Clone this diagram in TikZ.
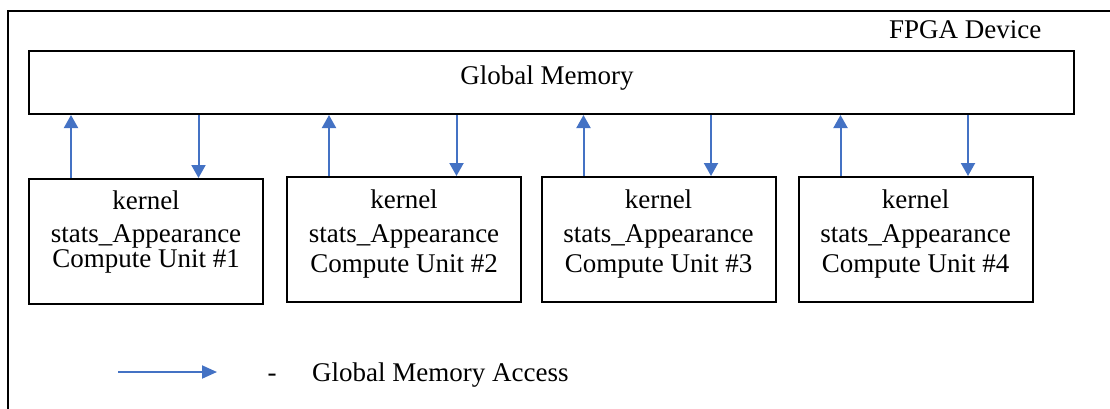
\documentclass[tikz,border=0pt]{standalone}
\usepackage{fontspec}
\setmainfont{Liberation Serif}
\usetikzlibrary{arrows.meta}
\definecolor{accblue}{HTML}{4472C4}
\begin{document}
\begin{tikzpicture}[x=1pt,y=-1pt,
  frame/.style={draw=black,line width=2pt},
  cubox/.style={frame,rectangle,inner sep=0pt,minimum width=234pt,minimum height=125pt},
  txt/.style={inner sep=0pt,anchor=base,font=\fontsize{27}{30}\selectfont},
  acc/.style={draw=accblue,line width=2pt,-{Triangle[length=13pt,width=14pt]}},
]
\useasboundingbox (0,0) rectangle (1110,408);
\begin{scope}
\clip (0,0) rectangle (1110,408);
% device outline, running past the right and lower edges
\draw[frame] (8,11) rectangle (1125,425);
\end{scope}
\node[txt,anchor=base west] (dev) at (889,38) {FPGA Device};

% global memory
\node[frame,rectangle,inner sep=0pt,minimum width=1045pt,minimum height=63pt] (gm) at (551.5,82.5) {};
\node[txt] (gmt) at (547,84) {Global Memory};

% compute units
\node[cubox] (k1) at (146,241.5) {};
\node[cubox] (k2) at (404,239.5) {};
\node[cubox] (k3) at (658.5,239.5) {};
\node[cubox] (k4) at (915.5,239.5) {};

\node[txt] (k1a) at (146,209) {kernel};
\node[txt] (k1b) at (146,242) {stats\_Appearance};
\node[txt] (k1c) at (146,267) {Compute Unit \#1};
\foreach \k/\n in {k2/2,k3/3,k4/4}{
  \node[txt] (\k a) at ([yshift=31pt]\k.center) {kernel};
  \node[txt] (\k b) at ([yshift=-2.5pt]\k.center) {stats\_Appearance};
  \node[txt] (\k c) at ([yshift=-32.5pt]\k.center) {Compute Unit \#\n};
}

% read (up) and write (down) paths per unit
\foreach \k in {k1,k2,k3,k4}{
  \draw[acc] ([xshift=43pt]\k.north west) -- ([xshift=43pt]\k.north west |- gm.south);
  \draw[acc] ([xshift=43pt]\k.north west |- gm.south) ++(127.5pt,0) coordinate (\k w)
     -- (\k w |- \k.north);
}

% legend
\coordinate (la) at (118,372);
\coordinate (lb) at (217,372);
\draw[draw=accblue,line width=2pt,-{Triangle[length=15pt,width=13pt]}] (la) -- (lb);
\node[txt] (ld) at (272,381) {-};
\node[txt,anchor=base west] (lt) at (312,381) {Global Memory Access};
\end{tikzpicture}
\end{document}
